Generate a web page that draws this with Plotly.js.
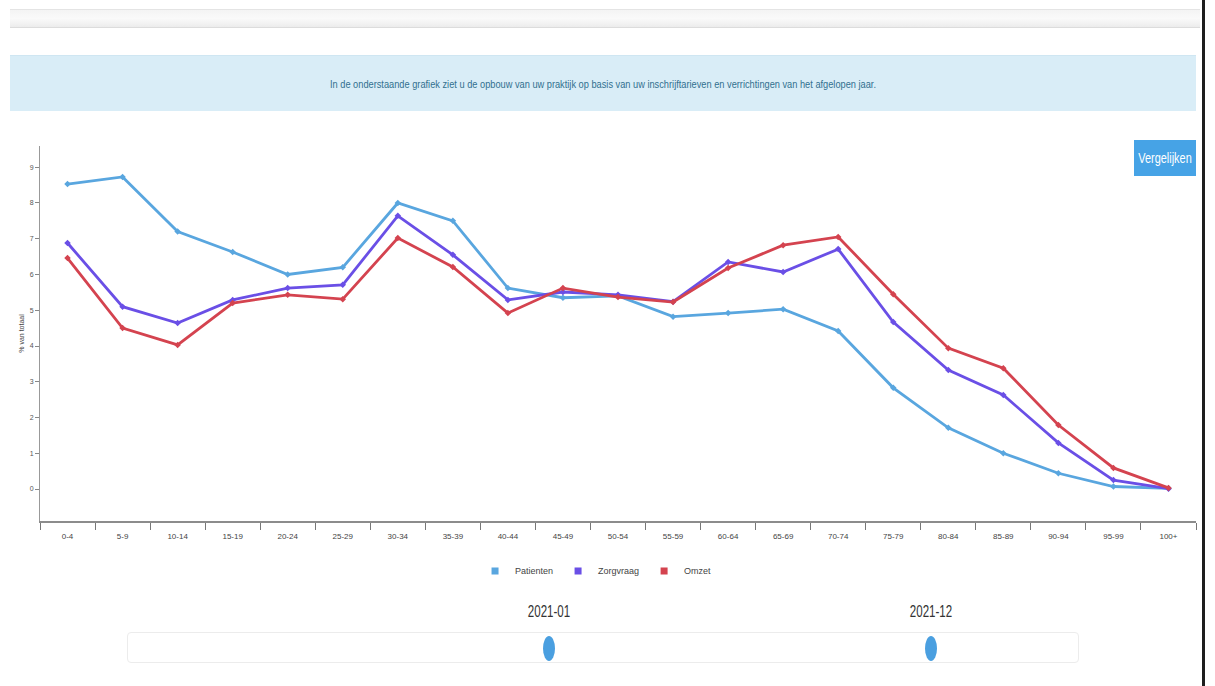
<!DOCTYPE html>
<html>
<head>
<meta charset="utf-8">
<script src="https://cdn.plot.ly/plotly-3.0.1.min.js"></script>
<style>
html,body{margin:0;padding:0;width:1215px;height:686px;overflow:hidden;background:#fff;font-family:"Liberation Sans",Arial,sans-serif;}
#chart{position:absolute;left:0;top:0;width:1215px;height:686px;z-index:1;}
.topbar{position:absolute;left:10px;top:9px;width:1190px;height:17px;background:linear-gradient(#f4f4f4,#fafafa 50%,#ececec);border-top:1px solid #e4e4e4;border-bottom:1px solid #dcdcdc;}
.edge{position:absolute;left:1202px;top:0;width:3px;height:686px;background:#1e1e1e;z-index:3;}
.banner{position:absolute;left:10px;top:55px;width:1186px;height:55px;background:#d9edf7;border-top:1px solid #cfe6f2;}
.banner span{position:absolute;left:50%;top:50%;transform:translate(-50%,-50%) scaleX(0.84);white-space:nowrap;font-size:11px;color:#31708f;}
.btn{position:absolute;left:1134px;top:140px;width:62px;height:36px;background:#46a3e6;z-index:2;}
.btn span{position:absolute;left:50%;top:50%;transform:translate(-50%,-50%) scaleX(0.78);white-space:nowrap;font-size:14px;color:#fff;}
.slider{position:absolute;left:127px;top:632px;width:950px;height:29px;border:1px solid #ececec;border-radius:4px;background:#fff;}
.handle{position:absolute;top:636px;width:12px;height:25px;border-radius:50%;background:#4a9fe0;z-index:2;}
.hlabel{position:absolute;top:603px;font-size:16px;color:#333;transform:translateX(-50%) scaleX(0.72);white-space:nowrap;}
</style>
</head>
<body>
<div class="topbar"></div>
<div class="banner"><span>In de onderstaande grafiek ziet u de opbouw van uw praktijk op basis van uw inschrijftarieven en verrichtingen van het afgelopen jaar.</span></div>
<div id="chart"></div>
<div class="btn"><span>Vergelijken</span></div>
<div class="slider"></div>
<div class="hlabel" style="left:549px">2021-01</div>
<div class="hlabel" style="left:931px">2021-12</div>
<div class="handle" style="left:543px"></div>
<div class="handle" style="left:925px"></div>
<div class="edge"></div>
<script>
const categories = ['0-4','5-9','10-14','15-19','20-24','25-29','30-34','35-39','40-44','45-49','50-54','55-59','60-64','65-69','70-74','75-79','80-84','85-89','90-94','95-99','100+'];
const patienten = [8.53, 8.73, 7.2, 6.63, 6.0, 6.2, 8.0, 7.5, 5.62, 5.35, 5.4, 4.82, 4.92, 5.03, 4.42, 2.83, 1.71, 1.0, 0.44, 0.07, 0.02];
const zorgvraag = [6.88, 5.1, 4.64, 5.29, 5.62, 5.71, 7.64, 6.55, 5.29, 5.51, 5.43, 5.24, 6.35, 6.07, 6.71, 4.67, 3.33, 2.63, 1.29, 0.25, 0.01];
const omzet = [6.46, 4.5, 4.03, 5.2, 5.43, 5.31, 7.02, 6.21, 4.92, 5.62, 5.37, 5.23, 6.18, 6.82, 7.05, 5.45, 3.94, 3.38, 1.79, 0.59, 0.03];
const seriesNames = ['Patienten', 'Zorgvraag', 'Omzet'];
const yTicks = [0,1,2,3,4,5,6,7,8,9];
const yTitle = '% van totaal';

const colors = ['#59a6df', '#6a4fe6', '#d4434f'];
const values = [patienten, zorgvraag, omzet];

const traces = [];
values.forEach((v, i) => {
  traces.push({
    x: categories, y: v, type: 'scatter', mode: 'lines+markers',
    name: seriesNames[i], showlegend: false, legendgroup: seriesNames[i],
    line: {color: colors[i], width: 2.8},
    marker: {color: colors[i], size: 5, symbol: 'diamond'},
    hoverinfo: 'x+y+name'
  });
});
values.forEach((v, i) => {
  traces.push({
    x: [null], y: [null], type: 'scatter', mode: 'markers',
    name: seriesNames[i], legendgroup: seriesNames[i], showlegend: true,
    marker: {color: colors[i], size: 7, symbol: 'square'}
  });
});

const layout = {
  width: 1215, height: 686,
  margin: {l: 40, r: 19, t: 146, b: 165, pad: 0},
  paper_bgcolor: 'rgba(0,0,0,0)', plot_bgcolor: 'rgba(0,0,0,0)',
  font: {family: '"Liberation Sans", Arial, sans-serif', color: '#444'},
  showlegend: true,
  legend: {orientation: 'h', x: 0.481, xanchor: 'center', y: -0.133, yanchor: 'middle',
           font: {size: 9, color: '#444'}, itemwidth: 30, bgcolor: 'rgba(0,0,0,0)'},
  xaxis: {
    type: 'category', range: [-0.5, 20.5], tickson: 'boundaries',
    ticks: 'outside', ticklen: 7, tickcolor: '#777', tickwidth: 1,
    showline: true, linecolor: '#8c8c8c', linewidth: 2,
    showgrid: false, zeroline: false,
    tickfont: {size: 8, color: '#444'}, ticklabelstandoff: 6
  },
  yaxis: {
    range: [-0.895, 9.594], tickvals: yTicks, ticktext: yTicks.map(String),
    ticks: 'outside', ticklen: 4, tickcolor: '#888',
    showline: true, linecolor: '#999', linewidth: 1,
    showgrid: false, zeroline: false,
    tickfont: {size: 7, color: '#555'},
    title: {text: yTitle, font: {size: 7, color: '#444'}, standoff: 4}
  }
};
Plotly.newPlot('chart', traces, layout, {displayModeBar: false, staticPlot: false});
</script>
</body>
</html>
